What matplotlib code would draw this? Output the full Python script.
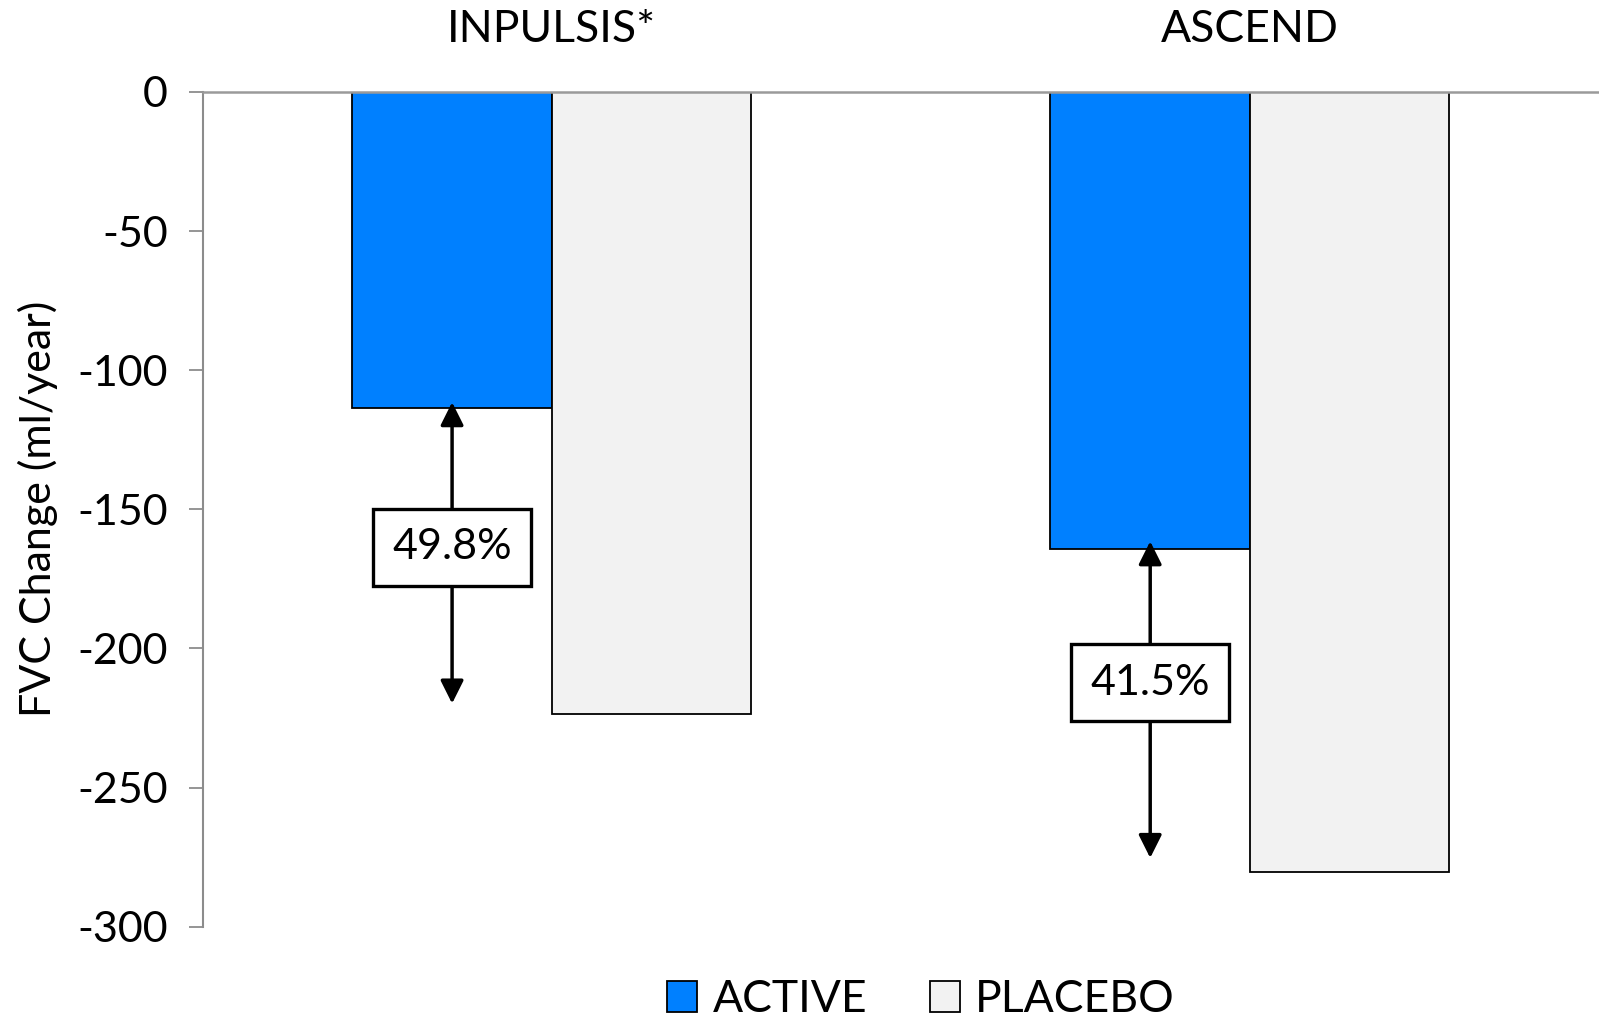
import matplotlib.pyplot as plt
from matplotlib.patches import Patch

# FVC decline per year, nintedanib/pirfenidone trials vs placebo
trials = ['INPULSIS*', 'ASCEND']
active = [-113.6, -164.3]
placebo = [-223.6, -280.3]
reduction = ['49.8%', '41.5%']
arrow_top = [-111.5, -161.5]
arrow_bottom = [-219.8, -275.3]
box_y = [-163.7, -212.3]

plt.rcParams['font.family'] = ['Lato', 'DejaVu Sans']

fig = plt.figure(figsize=(15.99, 10.21), dpi=100)
ax = fig.add_axes([0.1268, 0.0924, 0.8732, 0.8175])

w = 1 / 3.5
x = list(range(len(trials)))
ax.bar([i - w / 2 for i in x], active, width=w, color='#0080FF',
       edgecolor='black', linewidth=1.3, zorder=2)
ax.bar([i + w / 2 for i in x], placebo, width=w, color='#F2F2F2',
       edgecolor='black', linewidth=1.3, zorder=2)

for i in x:
    ax.annotate('', xy=(i - w / 2, arrow_bottom[i]), xytext=(i - w / 2, arrow_top[i]),
                arrowprops=dict(arrowstyle='<|-|>,head_length=0.7,head_width=0.35',
                                color='black', lw=2.5, mutation_scale=20,
                                shrinkA=0, shrinkB=0), zorder=3)
    ax.text(i - w / 2, box_y[i], reduction[i], ha='center', va='center',
            fontsize=31, zorder=4,
            bbox=dict(boxstyle='square,pad=0.45', facecolor='white',
                      edgecolor='black', linewidth=2.4))

ax.set_xlim(-0.5, 1.5)
ax.set_ylim(-300, 0)
ax.set_yticks([0, -50, -100, -150, -200, -250, -300])
ax.set_yticklabels(['0', '-50', '-100', '-150', '-200', '-250', '-300'])
ax.tick_params(axis='y', labelsize=31, length=10, width=1.3, color='#8c8c8c', pad=15)

ax.xaxis.tick_top()
ax.set_xticks(x)
ax.set_xticklabels(trials)
ax.tick_params(axis='x', labelsize=32, length=0, pad=30)

ax.spines['right'].set_visible(False)
ax.spines['bottom'].set_visible(False)
ax.spines['left'].set_color('#8c8c8c')
ax.spines['left'].set_linewidth(1.5)
ax.spines['top'].set_color('#9a9a9a')
ax.spines['top'].set_linewidth(1.8)

ax.set_ylabel('FVC Change (ml/year)', fontsize=31)
ax.yaxis.set_label_coords(-0.104, 0.5)

handles = [Patch(facecolor='#0080FF', edgecolor='black', linewidth=1.3),
           Patch(facecolor='#F2F2F2', edgecolor='black', linewidth=1.3)]
fig.legend(handles, ['ACTIVE', 'PLACEBO'], loc='center', ncol=2,
           bbox_to_anchor=(0.576, 0.021), frameon=False, fontsize=32,
           handlelength=0.68, handleheight=0.68, handletextpad=0.35,
           columnspacing=1.4)

fig.savefig('out.png', dpi=100)
